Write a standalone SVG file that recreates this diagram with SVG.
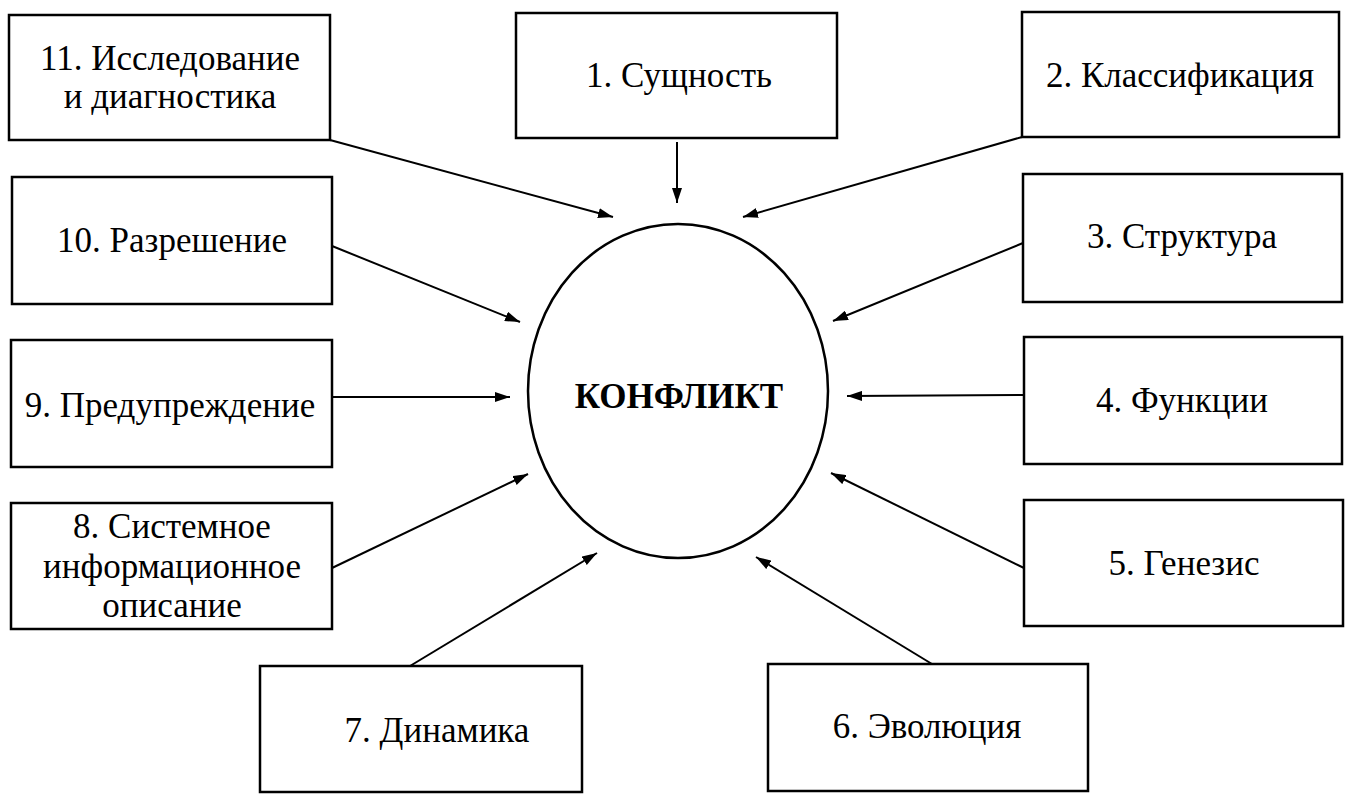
<svg xmlns="http://www.w3.org/2000/svg" width="1346" height="798" viewBox="0 0 1346 798">
<style>
.box{fill:#fff;stroke:#000;stroke-width:2.5}
.t{font-size:35px;fill:#000;text-anchor:middle}
.c{font-weight:bold;font-size:35px}
.ln{stroke:#000;stroke-width:2;fill:none;marker-end:url(#ah)}
</style>
<defs>
<marker id="ah" markerUnits="userSpaceOnUse" markerWidth="16" markerHeight="10" refX="15" refY="5" orient="auto">
<path d="M0,0 L15,5 L0,10 z" fill="#000"/>
</marker>
</defs>
<rect x="0" y="0" width="1346" height="798" fill="#fff"/>
<g id="connectors">
<line class="ln" x1="330" y1="140" x2="613" y2="217"/>
<line class="ln" x1="677" y1="142" x2="677" y2="203"/>
<line class="ln" x1="1022" y1="137" x2="743" y2="217"/>
<line class="ln" x1="332" y1="246" x2="520" y2="322"/>
<line class="ln" x1="1023" y1="243" x2="833" y2="321"/>
<line class="ln" x1="332" y1="397" x2="510" y2="397"/>
<line class="ln" x1="1024" y1="395" x2="847" y2="396"/>
<line class="ln" x1="332" y1="568" x2="528" y2="474"/>
<line class="ln" x1="1024" y1="568" x2="831" y2="473"/>
<line class="ln" x1="410" y1="666" x2="597" y2="553"/>
<line class="ln" x1="932" y1="664" x2="756" y2="557"/>
</g>
<g font-family="Liberation Serif, Times New Roman, serif">
<g id="center">
<ellipse cx="678" cy="391" rx="150" ry="167" fill="#fff" stroke="#000" stroke-width="2.5"/>
<text class="t c" x="679" y="408">КОНФЛИКТ</text>
</g>
<g id="n1"><rect class="box" x="516" y="13" width="321" height="125"/><text class="t" x="679" y="87">1. Сущность</text></g>
<g id="n2"><rect class="box" x="1022" y="12" width="317" height="125"/><text class="t" x="1180" y="87">2. Классификация</text></g>
<g id="n3"><rect class="box" x="1023" y="174" width="319" height="128"/><text class="t" x="1182" y="248">3. Структура</text></g>
<g id="n4"><rect class="box" x="1024" y="337" width="318" height="127"/><text class="t" x="1182" y="412">4. Функции</text></g>
<g id="n5"><rect class="box" x="1024" y="500" width="319" height="126"/><text class="t" x="1184" y="575">5. Генезис</text></g>
<g id="n6"><rect class="box" x="768" y="664" width="320" height="127"/><text class="t" x="927" y="738">6. Эволюция</text></g>
<g id="n7"><rect class="box" x="260" y="666" width="322" height="126"/><text class="t" x="437" y="742">7. Динамика</text></g>
<g id="n8"><rect class="box" x="11" y="503" width="321" height="126"/><text class="t" x="172" y="538">8. Системное</text><text class="t" x="172" y="578">информационное</text><text class="t" x="172" y="617">описание</text></g>
<g id="n9"><rect class="box" x="11" y="340" width="321" height="127"/><text class="t" x="170" y="417">9. Предупреждение</text></g>
<g id="n10"><rect class="box" x="12" y="177" width="320" height="127"/><text class="t" x="172" y="252">10. Разрешение</text></g>
<g id="n11"><rect class="box" x="9" y="15" width="321" height="125"/><text class="t" x="170" y="70">11. Исследование</text><text class="t" x="170" y="108">и диагностика</text></g>
</g>
</svg>
